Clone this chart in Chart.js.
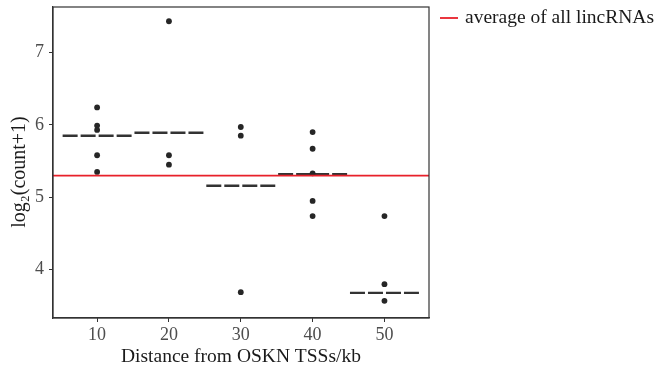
<!DOCTYPE html>
<html><head><meta charset="utf-8">
<script src="https://cdn.jsdelivr.net/npm/chart.js@4/dist/chart.umd.min.js"></script>
<style>html,body{margin:0;padding:0;background:#fff;}#wrap{width:659px;height:369px;}</style>
</head><body><div id="wrap"><canvas id="c" width="659" height="369"></canvas></div>
<script>
const categories = [10, 20, 30, 40, 50];
const pointValues = [
  [6.24, 5.99, 5.93, 5.58, 5.35],
  [7.43, 5.58, 5.45],
  [5.97, 5.85, 3.69],
  [5.90, 5.67, 5.33, 4.95, 4.74],
  [4.74, 3.80, 3.57]
];
const groupMeans = [5.85, 5.89, 5.16, 5.32, 3.68];
const lincAverage = 5.30;
const xTicks = [10, 20, 30, 40, 50];
const yTicks = [4, 5, 6, 7];
const legendLabel = 'average of all lincRNAs';
const yTitle = 'log₂(count+1)';

const FONT = "'Liberation Serif', 'Times New Roman', serif";
const datasets = [];
const pts = [];
categories.forEach((c, i) => pointValues[i].forEach(v => pts.push({x: c, y: v})));
datasets.push({type:'scatter', data: pts, backgroundColor:'#262626', borderColor:'#262626', pointRadius:2.9, borderWidth:0, order:1});
categories.forEach((c, i) => {
  datasets.push({type:'line', data:[{x:c-4.8,y:groupMeans[i]},{x:c+4.8,y:groupMeans[i]}], borderColor:'#333333', borderWidth:2.4, borderDash:[15,3], pointRadius:0, order:2});
});
datasets.push({type:'line', data:[{x:-100,y:lincAverage},{x:200,y:lincAverage}], borderColor:'#e8202a', borderWidth:1.8, pointRadius:0, order:0});

const frame = {
  id:'frame',
  afterDraw(chart){
    const {ctx, chartArea:a} = chart;
    ctx.save();
    ctx.strokeStyle = '#333';
    ctx.lineWidth = 1.2;
    ctx.strokeRect(a.left, a.top, a.right-a.left, a.bottom-a.top);
    // legend
    ctx.strokeStyle = '#e8202a';
    ctx.lineWidth = 1.8;
    ctx.beginPath(); ctx.moveTo(440, 18); ctx.lineTo(458, 18); ctx.stroke();
    ctx.fillStyle = '#1a1a1a';
    ctx.font = '19.5px ' + FONT;
    ctx.textBaseline = 'middle';
    ctx.fillText(legendLabel, 465, 18);
    // y title
    ctx.translate(20, 172);
    ctx.rotate(-Math.PI/2);
    ctx.font = '20px ' + FONT;
    ctx.textAlign = 'center';
    ctx.fillText(yTitle, 0, 0);
    ctx.restore();
  }
};

new Chart(document.getElementById('c'), {
  data:{datasets},
  options:{
    responsive:false, animation:false,
    layout:{padding:{left:0, top:7, right:230, bottom:0}},
    plugins:{legend:{display:false}, tooltip:{enabled:false}},
    scales:{
      x:{type:'linear', min:3.86, max:56.2,
        afterBuildTicks(s){ s.ticks = xTicks.map(v=>({value:v})); },
        afterFit(s){ s.height = 51; s.paddingLeft = 0; s.paddingRight = 0; },
        grid:{drawOnChartArea:false, drawTicks:true, tickLength:4, color:'#333'},
        border:{display:true, color:'#333', width:1.2},
        ticks:{color:'#4d4d4d', font:{family:FONT, size:18}, padding:2, maxRotation:0},
        title:{display:true, text:'Distance from OSKN TSSs/kb', color:'#1a1a1a', font:{family:FONT, size:19.5}, padding:{top:0,bottom:0}}
      },
      y:{type:'linear', min:3.333, max:7.627,
        afterBuildTicks(s){ s.ticks = yTicks.map(v=>({value:v})); },
        afterFit(s){ s.width = 53; s.paddingTop = 0; s.paddingBottom = 0; },
        grid:{drawOnChartArea:false, drawTicks:true, tickLength:4, color:'#333'},
        border:{display:true, color:'#333', width:1.2},
        ticks:{color:'#4d4d4d', font:{family:FONT, size:18}, padding:5},
        title:{display:false}
      }
    }
  },
  plugins:[frame]
});
</script></body></html>
